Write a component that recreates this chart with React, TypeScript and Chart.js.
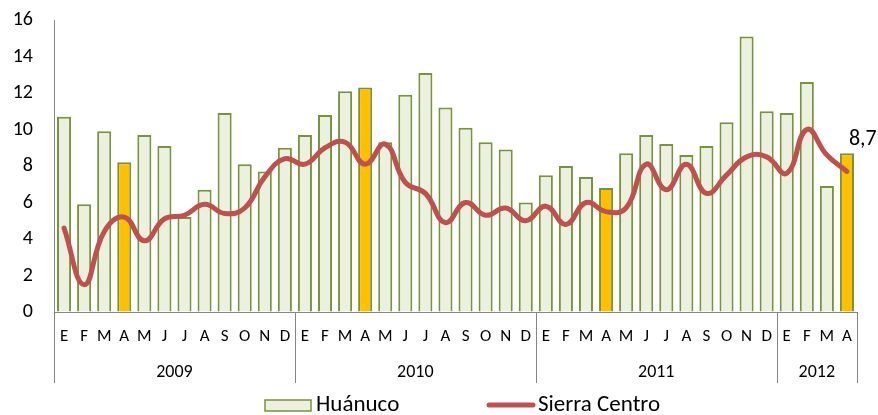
import React, { useEffect, useRef } from "react";
import { Chart, registerables } from "chart.js";

Chart.register(...registerables);

const months = ["E","F","M","A","M","J","J","A","S","O","N","D","E","F","M","A","M","J","J","A","S","O","N","D","E","F","M","A","M","J","J","A","S","O","N","D","E","F","M","A"];
const years = ["2009", "2010", "2011", "2012"];
const yearSizes = [12, 12, 12, 4];
const huanuco = [10.7,5.9,9.9,8.2,9.7,9.1,5.2,6.7,10.9,8.1,7.7,9.0, 9.7,10.8,12.1,12.3,9.3,11.9,13.1,11.2,10.1,9.3,8.9,6.0, 7.5,8.0,7.4,6.8,8.7,9.7,9.2,8.6,9.1,10.4,15.1,11.0, 10.9,12.6,6.9,8.7];
const sierraCentro = [4.6,1.5,4.4,5.2,3.9,5.1,5.3,5.9,5.4,5.7,7.4,8.4, 8.1,9.0,9.3,8.1,9.2,7.1,6.5,4.9,6.0,5.3,5.7,5.0, 5.8,4.8,6.0,5.5,5.7,8.1,6.7,8.1,6.5,7.5,8.5,8.5, 7.6,10.0,8.6,7.7];
const highlighted = [3, 15, 27, 39];
const yTicks = [0, 2, 4, 6, 8, 10, 12, 14, 16];
const lastLabel = "8,7";

const FONT = "Carlito, Lato, 'Open Sans', sans-serif";
const AXIS_COLOR = "#868686";

const customDraw = {
  id: "customDraw",
  afterDraw(chart: any) {
    const ctx = chart.ctx;
    const xs = chart.scales.x;
    const ys = chart.scales.y;
    const area = chart.chartArea;
    ctx.save();
    // month labels
    ctx.fillStyle = "#000";
    ctx.font = `17px ${FONT}`;
    ctx.textAlign = "center";
    ctx.textBaseline = "middle";
    months.forEach((m, i) => {
      ctx.fillText(m, xs.getPixelForValue(i), area.bottom + 25);
    });
    // separators and years
    const step = (area.right - area.left) / months.length;
    let start = 0;
    ctx.strokeStyle = AXIS_COLOR;
    ctx.lineWidth = 1;
    const drawSep = (x: number) => {
      ctx.beginPath();
      ctx.moveTo(Math.round(x) + 0.5, area.bottom);
      ctx.lineTo(Math.round(x) + 0.5, area.bottom + 71);
      ctx.stroke();
    };
    drawSep(area.left);
    years.forEach((y, k) => {
      const x0 = area.left + start * step;
      const x1 = area.left + (start + yearSizes[k]) * step;
      drawSep(x1);
      ctx.font = `18px ${FONT}`;
      ctx.fillText(y, (x0 + x1) / 2, area.bottom + 60);
      start += yearSizes[k];
    });
    // data label on last bar
    const li = huanuco.length - 1;
    ctx.font = `22px ${FONT}`;
    ctx.textAlign = "left";
    ctx.fillText(lastLabel, xs.getPixelForValue(li) + 2, ys.getPixelForValue(huanuco[li]) - 14);
    // legend
    const ly = 405;
    ctx.fillStyle = "#EBF1DE";
    ctx.fillRect(265, ly - 5, 46, 11);
    ctx.strokeStyle = "#77933C";
    ctx.lineWidth = 1.5;
    ctx.strokeRect(265, ly - 5, 46, 11);
    ctx.fillStyle = "#000";
    ctx.font = `23px ${FONT}`;
    ctx.textAlign = "left";
    ctx.fillText("Huánuco", 316, ly);
    ctx.strokeStyle = "#C0504D";
    ctx.lineWidth = 5;
    ctx.lineCap = "round";
    ctx.beginPath();
    ctx.moveTo(489, ly);
    ctx.lineTo(533, ly);
    ctx.stroke();
    ctx.fillText("Sierra Centro", 538, ly);
    ctx.restore();
  },
};

export default function App() {
  const ref = useRef<HTMLCanvasElement>(null);
  useEffect(() => {
    if (!ref.current) return;
    const chart = new Chart(ref.current, {
      type: "bar",
      data: {
        labels: months,
        datasets: [
          {
            type: "line",
            label: "Sierra Centro",
            data: sierraCentro,
            borderColor: "#C0504D",
            backgroundColor: "#C0504D",
            borderWidth: 5,
            pointRadius: 0,
            tension: 0.45,
            borderCapStyle: "round",
            order: 0,
          } as any,
          {
            type: "bar",
            label: "Huánuco",
            data: huanuco,
            backgroundColor: huanuco.map((_, i) => (highlighted.includes(i) ? "#FFC000" : "#EBF1DE")),
            borderColor: "#77933C",
            borderWidth: 2,
            categoryPercentage: 1,
            barPercentage: 0.7,
            order: 1,
          },
        ],
      },
      options: {
        responsive: false,
        animation: false,
        layout: { padding: { top: 20, right: 21, left: 0, bottom: 0 } },
        plugins: { legend: { display: false }, tooltip: { enabled: false } },
        scales: {
          x: {
            grid: { display: false },
            ticks: { display: false },
            border: { display: true, color: AXIS_COLOR, width: 1 },
            afterFit: (s: any) => { s.height = 103; },
          },
          y: {
            min: 0,
            max: 16,
            afterBuildTicks: (s: any) => { s.ticks = yTicks.map((v) => ({ value: v })); },
            grid: { display: true, drawOnChartArea: false, drawTicks: true, tickLength: 21, tickColor: "rgba(0,0,0,0)", color: "rgba(0,0,0,0)" },
            border: { display: true, color: AXIS_COLOR, width: 1 },
            ticks: { padding: 0, color: "#000", font: { family: FONT, size: 20 } },
            afterFit: (s: any) => { s.width = 54; },
          },
        },
      },
      plugins: [customDraw],
    });
    return () => chart.destroy();
  }, []);
  return (
    <div style={{ position: "fixed", left: 0, top: 0, width: 878, height: 415, background: "#fff" }}>
      <canvas ref={ref} width={878} height={415} />
    </div>
  );
}
